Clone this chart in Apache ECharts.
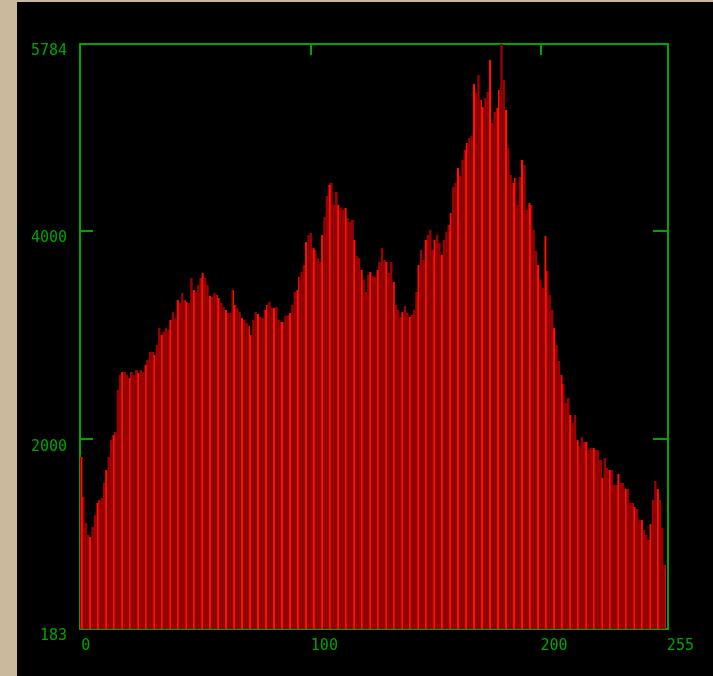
<!DOCTYPE html>
<html>
<head>
<meta charset="utf-8">
<script src="https://cdn.jsdelivr.net/npm/echarts@6/dist/echarts.min.js"></script>
<style>
  html, body { margin: 0; padding: 0; width: 713px; height: 676px; overflow: hidden; background: #c9b99a; }
  #chart { position: absolute; left: 17px; top: 2px; width: 696px; height: 674px; background: #000; }
</style>
</head>
<body>
<div id="chart"></div>
<script>
// Histogram of 8-bit levels (0..255): pixel counts per level
const levels = Array.from({ length: 256 }, (_, i) => String(i));

const counts = [
  1830, 1447, 1198, 1083, 1064, 1160, 1274, 1389, 1418, 1437,
  1581, 1705, 1830, 1993, 2040, 2069, 2471, 2615, 2643, 2643,
  2615, 2586, 2643, 2615, 2663, 2634, 2663, 2643, 2711, 2758,
  2835, 2835, 2806, 2902, 3065, 2998, 3026, 3065, 3046, 3141,
  3218, 3161, 3333, 3304, 3400, 3333, 3314, 3304, 3543, 3429,
  3409, 3476, 3543, 3591, 3543, 3476, 3371, 3362, 3400, 3381,
  3352, 3304, 3266, 3237, 3208, 3208, 3429, 3285, 3256, 3218,
  3161, 3141, 3113, 3084, 2998, 3141, 3218, 3199, 3170, 3161,
  3237, 3285, 3314, 3256, 3256, 3266, 3141, 3122, 3122, 3180,
  3189, 3208, 3285, 3409, 3429, 3553, 3601, 3668, 3888, 3955,
  3974, 3831, 3812, 3735, 3697, 3955, 4128, 4329, 4434, 4453,
  4242, 4367, 4242, 4214, 4195, 4214, 4118, 4080, 4099, 3907,
  3754, 3735, 3620, 3524, 3409, 3572, 3601, 3563, 3553, 3620,
  3697, 3831, 3716, 3697, 3591, 3697, 3505, 3285, 3237, 3170,
  3218, 3275, 3208, 3170, 3189, 3237, 3409, 3668, 3812, 3716,
  3907, 3955, 4003, 3812, 3907, 3955, 3879, 3764, 3907, 3984,
  4051, 4166, 4415, 4453, 4597, 4520, 4673, 4769, 4836, 4884,
  4903, 5401, 5315, 5487, 5248, 5181, 5267, 5324, 5631, 5027,
  5133, 5171, 5343, 5784, 5439, 5152, 4788, 4530, 4453, 4501,
  4242, 4510, 4673, 4625, 4195, 4262, 4242, 4003, 3802, 3668,
  3524, 3448, 3946, 3610, 3381, 3237, 3065, 2902, 2749, 2615,
  2529, 2347, 2395, 2232, 2155, 2232, 1993, 1935, 2021, 1973,
  1973, 1897, 1916, 1916, 1897, 1897, 1801, 1629, 1820, 1724,
  1705, 1705, 1562, 1562, 1667, 1581, 1581, 1523, 1523, 1389,
  1389, 1351, 1332, 1227, 1227, 1131, 1083, 1035, 1188, 1418,
  1600, 1523, 1418, 1150, 796, 183
];

const xTickLabels = ['0', '100', '200', '255'];
const xTopTicks = ['100', '200'];
const yTickLabels = [183, 2000, 4000, 5784];
const yInnerTicks = [2000, 4000];
const yMin = 183;
const yMax = 5784;

const green = '#00a400';
const labelFont = { color: green, fontFamily: 'DejaVu Sans Mono', fontSize: 15 };

const chart = echarts.init(document.getElementById('chart'), null, { renderer: 'canvas' });

chart.setOption({
  backgroundColor: '#000',
  animation: false,
  aria: { enabled: true, decal: { show: true } },
  grid: { left: 63, right: 45, top: 42, bottom: 47, containLabel: false },
  xAxis: [
    {
      type: 'category',
      data: levels,
      position: 'bottom',
      boundaryGap: true,
      axisLine: { show: true, lineStyle: { color: green, width: 2 } },
      axisTick: { show: false },
      axisLabel: Object.assign({
        interval: (i) => xTickLabels.includes(levels[i]),
        align: 'left',
        margin: 10
      }, labelFont),
      splitLine: { show: false }
    },
    {
      type: 'category',
      data: levels,
      position: 'top',
      boundaryGap: true,
      axisLine: { show: true, lineStyle: { color: green, width: 2 } },
      axisTick: {
        show: true,
        inside: true,
        length: 11,
        alignWithLabel: true,
        interval: (i) => xTopTicks.includes(levels[i]),
        lineStyle: { color: green, width: 2 }
      },
      axisLabel: { show: false },
      splitLine: { show: false }
    }
  ],
  yAxis: [
    {
      type: 'value',
      min: yMin,
      max: yMax,
      position: 'left',
      axisLine: { show: true, lineStyle: { color: green, width: 2 } },
      axisTick: {
        show: true,
        inside: true,
        length: 13,
        customValues: yInnerTicks,
        lineStyle: { color: green, width: 2 }
      },
      axisLabel: Object.assign({
        customValues: yTickLabels,
        formatter: (v) => String(Math.round(v)),
        verticalAlign: 'top',
        margin: 13,
        showMinLabel: true,
        showMaxLabel: true
      }, labelFont),
      splitLine: { show: false }
    },
    {
      type: 'value',
      min: yMin,
      max: yMax,
      position: 'right',
      axisLine: { show: true, lineStyle: { color: green, width: 2 } },
      axisTick: {
        show: true,
        inside: true,
        length: 15,
        customValues: yInnerTicks,
        lineStyle: { color: green, width: 2 }
      },
      axisLabel: { show: false },
      splitLine: { show: false }
    }
  ],
  series: [
    {
      type: 'bar',
      xAxisIndex: 0,
      yAxisIndex: 0,
      data: counts,
      barCategoryGap: '0%',
      itemStyle: {
        color: '#9c0000',
        borderWidth: 0,
        // thin bright vertical streaks across the bars
        decal: {
          symbol: 'rect',
          symbolSize: 1,
          color: '#ff1200',
          backgroundColor: null,
          dashArrayX: [2, 6],
          dashArrayY: [4, 0],
          rotation: 0,
          symbolKeepAspect: false
        }
      },
      z: 1
    }
  ]
});
</script>
</body>
</html>
